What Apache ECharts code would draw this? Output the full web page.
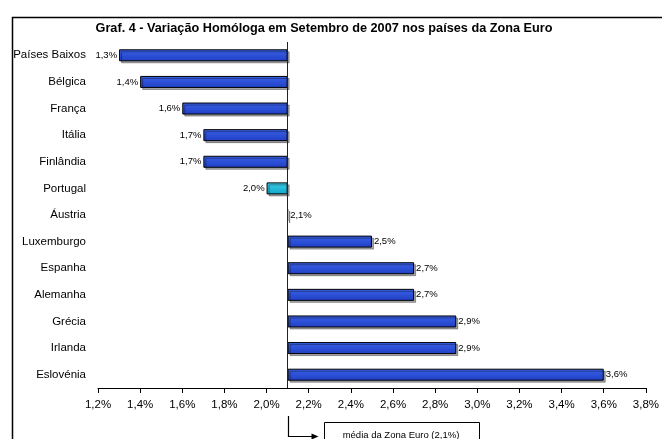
<!DOCTYPE html>
<html>
<head>
<meta charset="utf-8">
<style>
    html, body {margin: 0; padding: 0; background: #fff;}
    #chart {width: 662px; height: 439px;}
</style>
<script src="https://cdn.jsdelivr.net/npm/echarts@6/dist/echarts.min.js"></script>
</head>
<body>
<div id="chart"></div>
<script>

    // países, de cima para baixo
    var countries = [
        'Países Baixos', 'Bélgica', 'França', 'Itália', 'Finlândia', 'Portugal',
        'Áustria', 'Luxemburgo', 'Espanha', 'Alemanha', 'Grécia', 'Irlanda', 'Eslovénia'
    ];

    // variação homóloga (%)
    var values = [1.3, 1.4, 1.6, 1.7, 1.7, 2.0, 2.1, 2.5, 2.7, 2.7, 2.9, 2.9, 3.6];

    // média da Zona Euro (%)
    var euroAverage = 2.1;

    var xTicks = [1.2, 3.8, 0.2];

    var fontFamily = '"Liberation Sans", Arial, sans-serif';

    function pct(v) {
        return v.toFixed(1).replace('.', ',') + '%';
    }

    var chart = echarts.init(document.getElementById('chart'));

    var baseData = values.map(function (v) {
        return Math.min(v, euroAverage);
    });

    var barData = values.map(function (v, i) {
        var left = v < euroAverage;
        return {
            value: +Math.abs(v - euroAverage).toFixed(2),
            itemStyle: {
                color: countries[i] === 'Portugal'
                    ? new echarts.graphic.LinearGradient(0, 0, 0, 1, [
                        {offset: 0, color: '#3fd0ea'},
                        {offset: 1, color: '#0fa6c8'}
                    ])
                    : new echarts.graphic.LinearGradient(0, 0, 0, 1, [
                        {offset: 0, color: '#3a62e8'},
                        {offset: 1, color: '#1f3fc4'}
                    ])
            },
            label: {
                position: left ? 'left' : 'right',
                distance: 2,
                formatter: pct(v)
            }
        };
    });

    var option = {
        animation: false,
        title: {
            text: 'Graf. 4 - Variação Homóloga em Setembro de 2007 nos países da Zona Euro',
            left: 319,
            top: 17,
            textAlign: 'center',
            textStyle: {
                fontFamily: fontFamily,
                fontSize: 12.7,
                fontWeight: 'bold',
                color: '#000'
            }
        },
        grid: {
            left: 98,
            right: 9,
            top: 42,
            bottom: 51
        },
        xAxis: {
            type: 'value',
            min: xTicks[0],
            max: xTicks[1],
            interval: xTicks[2],
            axisLine: {show: true, lineStyle: {color: '#000', width: 1}},
            axisTick: {show: true, length: 5, lineStyle: {color: '#000'}},
            splitLine: {show: false},
            axisLabel: {
                margin: 11,
                color: '#000',
                fontFamily: fontFamily,
                fontSize: 11.5,
                formatter: function (v) {
                    return pct(v);
                }
            }
        },
        yAxis: {
            type: 'category',
            data: countries,
            inverse: true,
            axisLine: {show: false},
            axisTick: {show: false},
            axisLabel: {
                margin: 12,
                color: '#000',
                fontFamily: fontFamily,
                fontSize: 11.5
            }
        },
        series: [
            {
                name: 'base',
                type: 'bar',
                stack: 'v',
                barWidth: 12,
                silent: true,
                itemStyle: {color: 'transparent'},
                data: baseData
            },
            {
                name: 'variação',
                type: 'bar',
                stack: 'v',
                barWidth: 12,
                itemStyle: {
                    borderColor: '#000',
                    borderWidth: 1,
                    shadowColor: 'rgba(0,0,0,0.35)',
                    shadowOffsetX: 2,
                    shadowOffsetY: 2,
                    shadowBlur: 0
                },
                label: {
                    show: true,
                    color: '#000',
                    fontFamily: fontFamily,
                    fontSize: 9.5
                },
                markLine: {
                    silent: true,
                    symbol: 'none',
                    label: {show: false},
                    lineStyle: {color: '#222', width: 1, type: 'solid'},
                    data: [{xAxis: euroAverage}]
                },
                data: barData
            }
        ]
    };

    chart.setOption(option);

    // moldura e nota da média, posicionadas pela escala do eixo
    var avgX = Math.round(chart.convertToPixel({xAxisIndex: 0}, euroAverage)) + 0.5;

    chart.setOption({
        graphic: [
            {
                type: 'rect',
                left: 10,
                top: 15,
                shape: {width: 700, height: 500},
                style: {fill: 'none', stroke: '#000', lineWidth: 1.5},
                silent: true
            },
            {
                type: 'polyline',
                shape: {points: [[avgX, 416], [avgX, 436.5], [avgX + 24, 436.5]]},
                style: {stroke: '#000', lineWidth: 1.2, fill: 'none'}
            },
            {
                type: 'polygon',
                shape: {points: [[avgX + 23, 433.5], [avgX + 30, 436.5], [avgX + 23, 439.5]]},
                style: {fill: '#000'}
            },
            {
                type: 'rect',
                shape: {x: 324.5, y: 422.5, width: 155, height: 30},
                style: {fill: '#fff', stroke: '#000', lineWidth: 1}
            },
            {
                type: 'text',
                x: 401,
                y: 435,
                style: {
                    text: 'média da Zona Euro (2,1%)',
                    font: '9.5px ' + fontFamily,
                    fill: '#000',
                    align: 'center',
                    verticalAlign: 'middle'
                }
            }
        ]
    });

</script>
</body>
</html>
